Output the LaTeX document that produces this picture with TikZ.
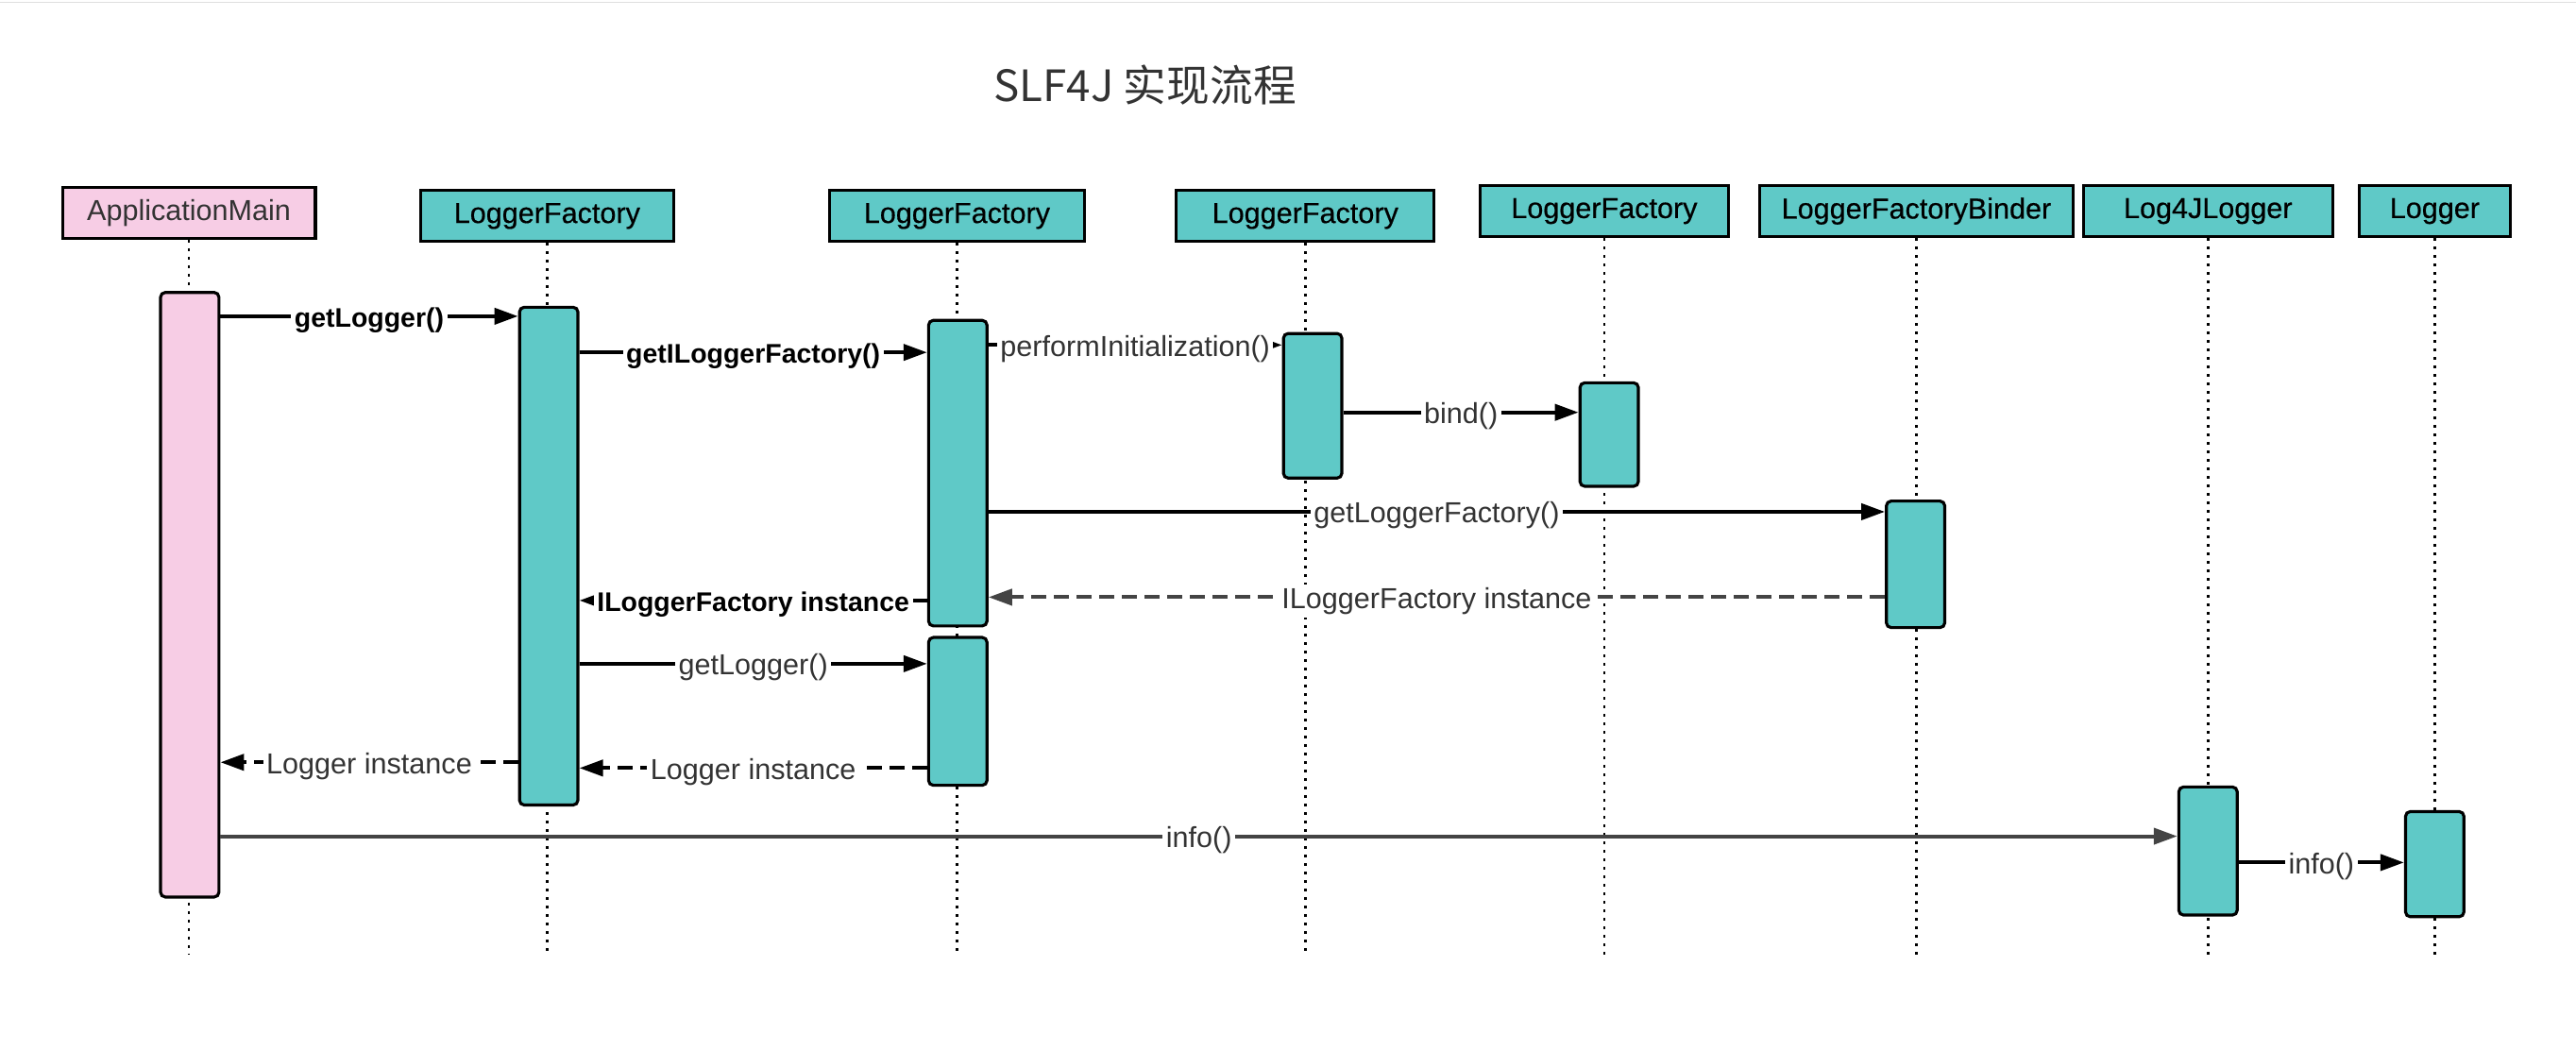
\documentclass[tikz,border=0pt]{standalone}
\usepackage{fontspec}
\setmainfont{Liberation Sans}
\newfontfamily\cjkfont{Noto Sans CJK SC}
\newfontfamily\headfont{Liberation Sans}[FakeBold=0.5]
\usepackage{xcolor}
\usepackage{tikz}
\usetikzlibrary{arrows.meta,positioning}

\definecolor{lfcyan}{HTML}{5FC9C7}
\definecolor{ampink}{HTML}{F7CDE5}
\definecolor{txtgray}{HTML}{333333}
\definecolor{msggray}{HTML}{444444}

\tikzset{
	head/.style={draw, line width=0.9pt, fill=lfcyan, inner sep=0pt, font=\headfont\fontsize{8.7}{10}\selectfont},
	amhead/.style={fill=ampink, text=txtgray, font=\fontsize{8.7}{10}\selectfont},
	bar/.style={draw, line width=0.9pt, fill=lfcyan, rounded corners=0.05cm, minimum width=0.618cm, inner sep=0pt},
	ambar/.style={fill=ampink},
	life/.style={line width=0.8pt, dash pattern=on 0.03cm off 0.06cm},
	msg/.style={line width=1.15pt, -{Triangle[length=0.25cm,width=0.17cm]}},
	ret/.style={msg, dash pattern=on 0.16cm off 0.08cm},
	lbl/.style={fill=white, inner sep=1pt, yshift=-1.1pt, text=txtgray, font=\fontsize{8.7}{10}\selectfont},
	blbl/.style={lbl, text=black, font=\bfseries\fontsize{8.1}{10}\selectfont},
}

\begin{document}
\begin{tikzpicture}[x=0.017398cm, y=-0.017398cm]

\useasboundingbox (0,0) rectangle (1568,639.2);
\draw[gray!25, line width=0.4pt] (0,1.5) -- (1568,1.5); % top edge

% header box: style, name, left x, right x, top y, text
\def\headbox#1#2#3#4#5#6{%
	\node[head, #1, minimum width={(#4-#3)*0.017398cm}, minimum height=0.539cm] (#2) at ({(#3+#4)/2},{#5+15.5}) {#6};}
% activation bar: style, name, centre x, top y, bottom y
\def\actbar#1#2#3#4#5{%
	\node[bar, #1, minimum height={(#5-#4)*0.017398cm}] (#2) at (#3,{(#4+#5)/2}) {};}

\node[font=\cjkfont\fontsize{13}{15}\selectfont, text=txtgray] (title) at (697,52) {SLF4J 实现流程};

%Lifeline heads:
\headbox{amhead}{am}{38}{192}{114}{ApplicationMain}
\headbox{}{lfA}{256}{410}{116}{LoggerFactory}
\headbox{}{lfB}{505}{660}{116}{LoggerFactory}
\headbox{}{lfC}{716}{873}{116}{LoggerFactory}
\headbox{}{lfD}{901}{1052}{113}{LoggerFactory}
\headbox{}{bind}{1071}{1262}{113}{LoggerFactoryBinder}
\headbox{}{ljl}{1268}{1420}{113}{Log4JLogger}
\headbox{}{lg}{1436}{1528}{113}{Logger}

\coordinate (bottom) at (0,581);
\foreach \n in {am,lfA,lfB,lfC,lfD,bind,ljl,lg}
	\draw[life] (\n.south) -- (\n.south |- bottom);

%Activation bars:
\actbar{ambar}{amA}{115.5}{178}{546}
\actbar{}{lfA1}{334}{187}{490}
\actbar{}{lfB1}{583}{195}{381}
\actbar{}{lfB2}{583}{388}{478}
\actbar{}{lfC1}{799}{203}{291}
\actbar{}{lfD1}{979.5}{233}{296}
\actbar{}{bindA}{1166}{305}{382}
\actbar{}{ljlA}{1344}{479}{557}
\actbar{}{lgA}{1482}{494}{558}

%Messages:
\draw[msg] (amA.east |- 0,192.5) -- node[blbl]{getLogger()} (lfA1.west |- 0,192.5);
\draw[msg] (lfA1.east |- 0,214.5) -- node[blbl]{getILoggerFactory()} (lfB1.west |- 0,214.5);
\draw[msg] (lfB1.east |- 0,210) -- node[lbl]{performInitialization()} (lfC1.west |- 0,210);
\draw[msg] (lfC1.east |- 0,251) -- node[lbl]{bind()} (lfD1.west |- 0,251);
\draw[msg] (lfB1.east |- 0,311.5) -- node[lbl]{getLoggerFactory()} (bindA.west |- 0,311.5);
\draw[ret, msggray] (bindA.west |- 0,363.5) -- node[lbl]{ILoggerFactory instance} (lfB1.east |- 0,363.5);
\draw[msg] (lfB1.west |- 0,365.5) -- node[blbl]{ILoggerFactory instance} (lfA1.east |- 0,365.5);
\draw[msg] (lfA1.east |- 0,404) -- node[lbl]{getLogger()} (lfB2.west |- 0,404);
\draw[ret] (lfB2.west |- 0,467.5) -- node[lbl]{Logger instance} (lfA1.east |- 0,467.5);
\draw[ret] (lfA1.west |- 0,464) -- node[lbl]{Logger instance} (amA.east |- 0,464);
\draw[msg, msggray] (amA.east |- 0,509) -- node[lbl]{info()} (ljlA.west |- 0,509);
\draw[msg] (ljlA.east |- 0,525) -- node[lbl]{info()} (lgA.west |- 0,525);

\end{tikzpicture}
\end{document}
